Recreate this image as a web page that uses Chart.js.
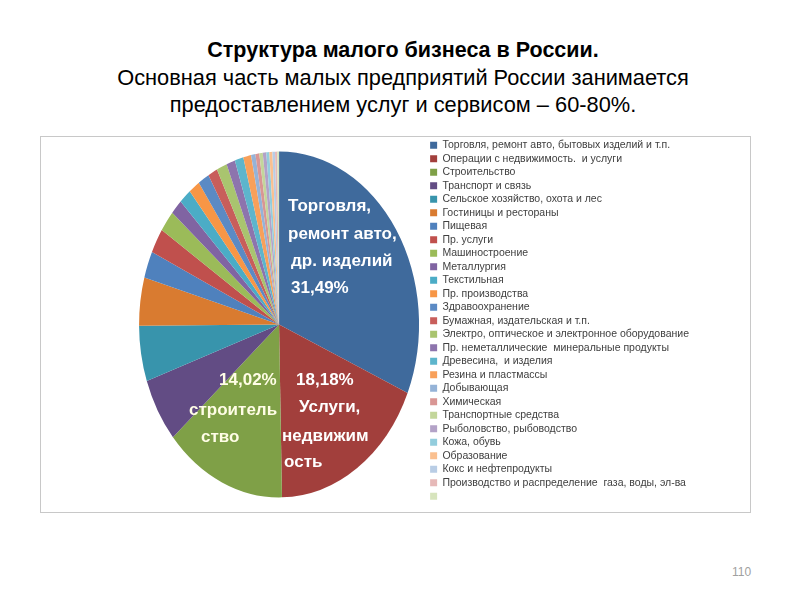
<!DOCTYPE html>
<html>
<head>
<meta charset="utf-8">
<script src="https://cdn.jsdelivr.net/npm/chart.js@4.4.1/dist/chart.umd.min.js"></script>
<style>
    body { margin: 0; width: 800px; height: 600px; background: #fff; position: relative; overflow: hidden; font-family: 'Liberation Sans', Arial, sans-serif; }
    #title { position: absolute; left: 0; top: 36px; width: 806px; text-align: center; color: #000; font-size: 21.8px; line-height: 27px; }
    #title b { font-size: 21.5px; }
    #frame { position: absolute; left: 40px; top: 136px; width: 709px; height: 375px; border: 1px solid #c8c8c8; }
    #page { position: absolute; left: 732px; top: 565px; font-size: 12px; color: #a0a0a0; }
</style>
</head>
<body>
<div id="title">
    <b>Структура малого бизнеса в России.</b><br>
    Основная часть малых предприятий России занимается<br>
    предоставлением услуг и сервисом – 60-80%.
</div>
<div id="frame"><canvas id="pie"></canvas></div>
<div id="page">110</div>
<script>
const sectors = [
    'Торговля, ремонт авто, бытовых изделий и т.п.',
    'Операции с недвижимость.  и услуги',
    'Строительство',
    'Транспорт и связь',
    'Сельское хозяйство, охота и лес',
    'Гостиницы и рестораны',
    'Пищевая',
    'Пр. услуги',
    'Машиностроение',
    'Металлургия',
    'Текстильная',
    'Пр. производства',
    'Здравоохранение',
    'Бумажная, издательская и т.п.',
    'Электро, оптическое и электронное оборудование',
    'Пр. неметаллические  минеральные продукты',
    'Древесина,  и изделия',
    'Резина и пластмассы',
    'Добывающая',
    'Химическая',
    'Транспортные средства',
    'Рыболовство, рыбоводство',
    'Кожа, обувь',
    'Образование',
    'Кокс и нефтепродукты',
    'Производство и распределение  газа, воды, эл-ва',
    ''
];

const shares = [31.49, 18.18, 14.02, 6.0, 5.2, 4.5, 2.5, 2.3, 2.0, 1.4, 1.4, 1.3,
    1.3, 1.1, 1.2, 1.0, 1.0, 0.9, 0.5, 0.45, 0.4, 0.4, 0.35, 0.35, 0.3, 0.25, 0.21];

const sliceColors = [
    '#3f6a9c', '#a23f3c', '#7fa047', '#624c84', '#3894ac', '#d97b30',
    '#4f81bd', '#c0504d', '#9bbb59', '#8064a2', '#4bacc6', '#f79646',
    '#5b8ac4', '#c85e5b', '#a9c46f', '#8d74ad', '#5db5cc', '#f8a05a',
    '#95b3d7', '#d99694', '#c3d69b', '#b3a2c7', '#93cddd', '#fac090',
    '#b9cde5', '#e6b9b8', '#d7e4bd'
];

// text on the three big slices, offsets from pie centre
const sliceTexts = [
    { color: '#ffffff', lines: [['Торговля,', 9, -118], ['ремонт авто,', 9, -90], ['др. изделий', 12, -63], ['31,49%', 12, -36]] },
    { color: '#ffffff', lines: [['18,18%', 17, 56], ['Услуги,', 20, 83], ['недвижим', 3, 112], ['ость', 5, 138]] },
    { color: '#fffde6', lines: [['14,02%', -60, 56], ['строитель', -90, 86], ['ство', -78, 113]] }
];

const stretchPie = {
    id: 'stretchPie',
    beforeDatasetsDraw(chart) {
        const arc = chart.getDatasetMeta(0).data[0];
        const ctx = chart.ctx;
        ctx.save();
        ctx.translate(arc.x, arc.y);
        ctx.scale(1, 1.235);
        ctx.translate(-arc.x, -arc.y);
    },
    afterDatasetsDraw(chart) {
        chart.ctx.restore();
    }
};

const sliceLabels = {
    id: 'sliceLabels',
    afterDraw(chart) {
        const arc = chart.getDatasetMeta(0).data[0];
        const ctx = chart.ctx;
        ctx.save();
        ctx.font = 'bold 17px "Liberation Sans", Arial, sans-serif';
        ctx.textBaseline = 'middle';
        ctx.textAlign = 'left';
        sliceTexts.forEach(t => {
            ctx.fillStyle = t.color;
            t.lines.forEach(([txt, dx, dy]) => ctx.fillText(txt, arc.x + dx, arc.y + dy));
        });
        ctx.restore();
    }
};

new Chart(document.getElementById('pie'), {
    type: 'pie',
    data: {
        labels: sectors,
        datasets: [{
            data: shares,
            backgroundColor: sliceColors,
            borderWidth: 0,
            radius: 140
        }]
    },
    options: {
        responsive: true,
        maintainAspectRatio: false,
        animation: false,
        layout: { padding: { left: 90, right: 51, top: 0, bottom: 0 } },
        plugins: {
            tooltip: { enabled: false },
            legend: {
                position: 'right',
                align: 'start',
                labels: {
                    boxWidth: 7,
                    boxHeight: 7,
                    padding: 3,
                    color: '#404040',
                    font: { family: '"Liberation Sans", Arial, sans-serif', size: 10.5 }
                }
            }
        }
    },
    plugins: [stretchPie, sliceLabels]
});
</script>
</body>
</html>
